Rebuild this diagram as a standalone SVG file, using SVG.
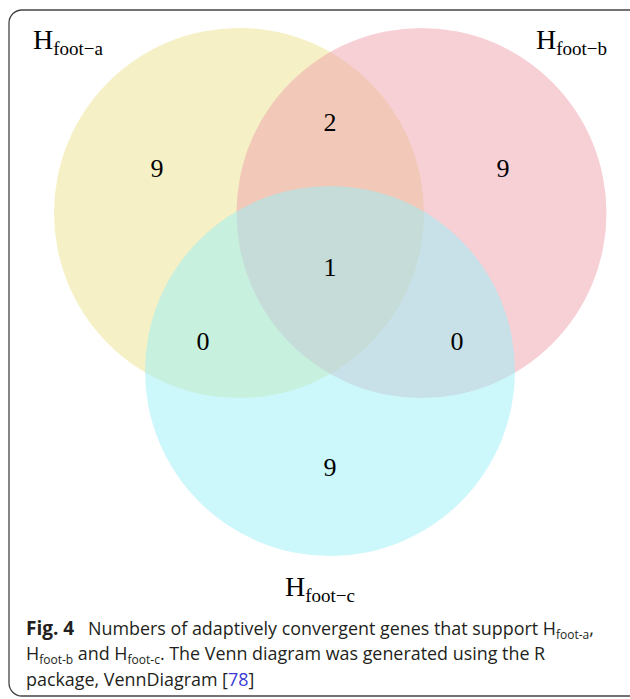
<svg xmlns="http://www.w3.org/2000/svg" width="630" height="699" viewBox="0 0 630 699">
<style>
.c{opacity:0.5}
.n{font-family:"Liberation Serif",serif;font-size:26px;fill:#000;text-anchor:middle}
.t{font-family:"Liberation Serif",serif;font-size:28px;fill:#000}
.s{font-size:19px}
.cap{font-family:"Open Sans","Liberation Sans",sans-serif;font-size:17.9px;fill:#231f20}
.cs{font-size:12px}
</style>
<rect x="9" y="10" width="640" height="686" rx="13" ry="13" fill="#fff" stroke="#444" stroke-width="1.3"/>
<g id="circles">
<g id="set-a"><circle class="c" cx="239" cy="213" r="185" fill="#EBE18B"/></g>
<g id="set-b"><circle class="c" cx="421.5" cy="213" r="185" fill="#EFA1AD"/></g>
<g id="set-c"><circle class="c" cx="330" cy="371" r="185" fill="#99EFF7"/></g>
</g>
<g id="counts">
<text class="n" x="157" y="177">9</text>
<text class="n" x="330" y="131">2</text>
<text class="n" x="503" y="177">9</text>
<text class="n" x="330" y="276">1</text>
<text class="n" x="203" y="350">0</text>
<text class="n" x="457" y="350">0</text>
<text class="n" x="330" y="476">9</text>
</g>
<g id="labels">
<text class="t" x="33" y="49">H<tspan class="s" dy="6">foot−a</tspan></text>
<text class="t" x="536" y="49">H<tspan class="s" dy="6">foot−b</tspan></text>
<text class="t" x="285" y="596">H<tspan class="s" dy="6">foot−c</tspan></text>
</g>
<g id="caption" class="cap">
<text x="26" y="635"><tspan font-weight="bold" font-size="19px">Fig. 4</tspan><tspan x="88">Numbers of adaptively convergent genes that support H</tspan><tspan class="cs" dy="3.5">foot-a</tspan><tspan dy="-3.5">,</tspan></text>
<text x="26" y="660">H<tspan class="cs" dy="3.5">foot-b</tspan><tspan dy="-3.5"> and H</tspan><tspan class="cs" dy="3.5">foot-c</tspan><tspan dy="-3.5">. The Venn diagram was generated using the R</tspan></text>
<text x="26" y="686">package, VennDiagram [<tspan fill="#3a3ad6">78</tspan>]</text>
</g>
</svg>
